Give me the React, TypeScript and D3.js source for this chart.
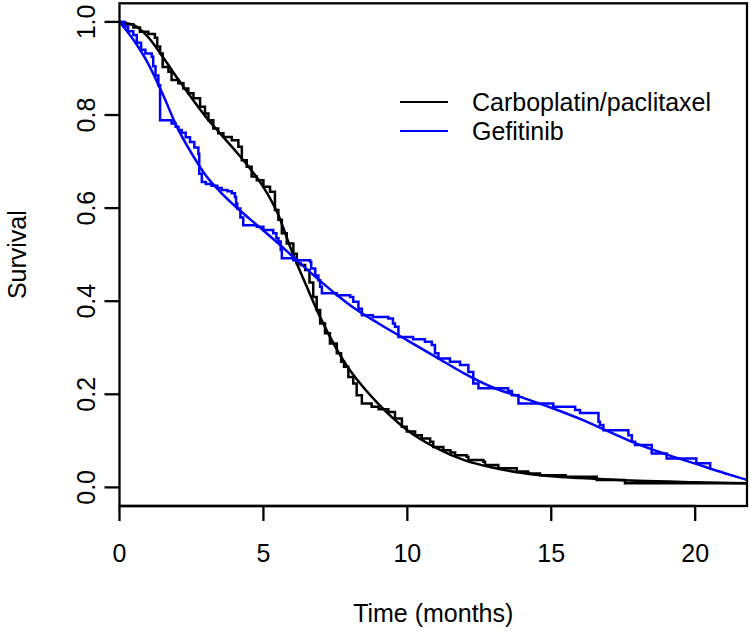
import React from "react";
import * as d3 from "d3";

const W = 750;
const H = 631;

const xTicks = [0, 5, 10, 15, 20];
const yTicks = [0, 0.2, 0.4, 0.6, 0.8, 1.0];
const xDomain = [0, 21.8];
const yDomain = [-0.04, 1.04];

const seriesNames = ["Carboplatin/paclitaxel", "Gefitinib"];
const seriesColors = ["#000000", "#0000ff"];

// Kaplan-Meier steps: [time, survival after drop]
const carboSteps: [number, number][] = [
  [0, 1], [0.19, 0.995], [0.48, 0.988], [0.71, 0.979], [1.0, 0.974], [1.23, 0.966],
  [1.31, 0.947], [1.41, 0.932], [1.5, 0.903], [1.7, 0.893], [1.81, 0.875], [2.04, 0.868],
  [2.22, 0.857], [2.39, 0.847], [2.57, 0.836], [2.8, 0.818], [2.97, 0.803], [3.09, 0.789],
  [3.26, 0.771], [3.43, 0.761], [3.61, 0.753], [3.9, 0.746], [4.13, 0.732], [4.25, 0.703],
  [4.42, 0.689], [4.59, 0.668], [4.77, 0.66], [5.0, 0.646], [5.23, 0.635], [5.4, 0.596],
  [5.52, 0.575], [5.64, 0.546], [5.81, 0.524], [6.04, 0.502], [6.16, 0.481], [6.3, 0.478],
  [6.45, 0.467], [6.6, 0.44], [6.73, 0.409], [6.85, 0.381], [6.97, 0.352], [7.14, 0.331],
  [7.31, 0.309], [7.55, 0.288], [7.7, 0.27], [7.8, 0.259], [7.95, 0.237], [8.12, 0.223],
  [8.24, 0.198], [8.42, 0.18], [8.76, 0.173], [9.0, 0.168], [9.34, 0.162], [9.57, 0.148],
  [9.81, 0.13], [9.98, 0.12], [10.27, 0.112], [10.5, 0.105], [10.79, 0.098], [10.9, 0.087],
  [11.25, 0.08], [11.5, 0.075], [11.66, 0.069], [12.06, 0.066], [12.12, 0.059], [12.64, 0.055],
  [12.7, 0.048], [13.16, 0.041], [13.8, 0.034], [14.2, 0.03], [14.61, 0.026], [15.5, 0.023],
  [16.58, 0.016], [17.56, 0.009], [22.5, 0.009],
];

const gefSteps: [number, number][] = [
  [0, 1], [0.15, 0.99], [0.3, 0.98], [0.48, 0.972], [0.6, 0.955], [0.75, 0.94], [0.9, 0.932],
  [1.12, 0.925], [1.17, 0.905], [1.25, 0.885], [1.35, 0.864], [1.41, 0.789], [1.81, 0.782],
  [1.95, 0.775], [2.05, 0.768], [2.16, 0.762], [2.3, 0.752], [2.45, 0.742], [2.6, 0.73],
  [2.74, 0.717], [2.77, 0.674], [2.86, 0.656], [3.0, 0.652], [3.2, 0.648], [3.4, 0.643],
  [3.55, 0.639], [3.75, 0.636], [3.9, 0.632], [4.01, 0.624], [4.05, 0.61], [4.09, 0.599],
  [4.2, 0.58], [4.3, 0.563], [4.77, 0.56], [5.0, 0.553], [5.34, 0.546], [5.45, 0.535],
  [5.52, 0.528], [5.6, 0.51], [5.64, 0.492], [6.04, 0.488], [6.62, 0.485], [6.66, 0.47],
  [6.8, 0.455], [6.91, 0.445], [6.97, 0.431], [7.03, 0.417], [7.55, 0.413], [8.01, 0.409],
  [8.12, 0.399], [8.3, 0.384], [8.42, 0.37], [8.8, 0.366], [9.34, 0.363], [9.5, 0.352],
  [9.57, 0.345], [9.69, 0.323], [10.2, 0.318], [10.61, 0.313], [10.85, 0.306], [10.96, 0.288],
  [11.08, 0.277], [11.48, 0.27], [11.83, 0.263], [12.12, 0.248], [12.29, 0.223], [12.47, 0.213],
  [13.5, 0.207], [13.63, 0.198], [13.86, 0.18], [15.07, 0.173], [15.83, 0.166], [16.0, 0.16],
  [16.64, 0.141], [16.69, 0.134], [16.81, 0.123], [17.68, 0.112], [17.8, 0.098], [17.91, 0.091],
  [18.49, 0.073], [19.01, 0.062], [20.04, 0.052], [20.52, 0.041], [20.55, 0.041],
];

// Fitted (smooth) survival curves: [time, survival]
const carboFit: [number, number][] = [
  [0, 1], [0.5, 0.993], [1, 0.967], [1.5, 0.925], [2, 0.88], [2.5, 0.837], [3, 0.796],
  [3.5, 0.76], [4, 0.725], [4.5, 0.688], [5, 0.645], [5.5, 0.588], [6, 0.505], [6.5, 0.432],
  [7, 0.362], [7.5, 0.302], [8, 0.252], [8.5, 0.213], [9, 0.179], [10, 0.123], [11, 0.085],
  [12, 0.058], [13, 0.042], [14, 0.031], [15, 0.024], [16, 0.02], [18, 0.014], [20, 0.011],
  [21.8, 0.009],
];

const gefFit: [number, number][] = [
  [0, 1], [0.5, 0.96], [1, 0.91], [1.5, 0.845], [2, 0.774], [2.5, 0.718], [3, 0.67],
  [3.5, 0.635], [4, 0.605], [4.5, 0.578], [5, 0.552], [5.5, 0.525], [6, 0.497], [6.5, 0.469],
  [7, 0.442], [7.5, 0.416], [8, 0.392], [9, 0.352], [10, 0.316], [11, 0.28], [12, 0.244],
  [13, 0.214], [14, 0.193], [15, 0.171], [16, 0.147], [17, 0.12], [18, 0.093], [19, 0.071],
  [20, 0.051], [21, 0.031], [21.8, 0.016],
];

const FONT = "'Liberation Sans', Arial, Helvetica, sans-serif";
const FS = 25;

export default function App() {
  const left = 119.5;
  const right = 747;
  const top = 3.3;
  const bottom = 506;

  const x = d3.scaleLinear().domain(xDomain).range([left, right]);
  const y = d3.scaleLinear().domain(yDomain).range([bottom, top]);

  const stepLine = d3
    .line<[number, number]>()
    .x((d) => x(d[0]))
    .y((d) => y(d[1]))
    .curve(d3.curveStepAfter);
  const smoothLine = d3
    .line<[number, number]>()
    .x((d) => x(d[0]))
    .y((d) => y(d[1]))
    .curve(d3.curveMonotoneX);

  const lw = 2.5;
  const tickLen = 15;

  return (
    <svg
      width={W}
      height={H}
      viewBox={`0 0 ${W} ${H}`}
      style={{ position: "absolute", left: 0, top: 0, background: "#fff" }}
      fontFamily={FONT}
    >
      <rect x={0} y={0} width={W} height={H} fill="#fff" />
      <defs>
        <clipPath id="plotClip">
          <rect x={left} y={top} width={right - left} height={bottom - top} />
        </clipPath>
      </defs>

      <g clipPath="url(#plotClip)" fill="none" strokeWidth={lw} strokeLinejoin="miter">
        <path d={stepLine(carboSteps) || ""} stroke={seriesColors[0]} />
        <path d={smoothLine(carboFit) || ""} stroke={seriesColors[0]} />
        <path d={stepLine(gefSteps) || ""} stroke={seriesColors[1]} />
        <path d={smoothLine(gefFit) || ""} stroke={seriesColors[1]} />
      </g>

      <rect
        x={left}
        y={top}
        width={right - left}
        height={bottom - top}
        fill="none"
        stroke="#000"
        strokeWidth={2.3}
      />

      {/* x axis */}
      <g>
        <line x1={x(0)} x2={x(20)} y1={bottom} y2={bottom} stroke="#000" strokeWidth={2.3} />
        {xTicks.map((t) => (
          <g key={t}>
            <line x1={x(t)} x2={x(t)} y1={bottom} y2={bottom + tickLen} stroke="#000" strokeWidth={2.3} />
            <text x={x(t)} y={562} textAnchor="middle" fontSize={FS} fill="#000">
              {t}
            </text>
          </g>
        ))}
        <text x={(left + right) / 2} y={622} textAnchor="middle" fontSize={FS} fill="#000">
          Time (months)
        </text>
      </g>

      {/* y axis */}
      <g>
        {yTicks.map((t) => (
          <g key={t}>
            <line x1={left - tickLen} x2={left} y1={y(t)} y2={y(t)} stroke="#000" strokeWidth={2.3} />
            <text
              transform={`translate(95,${y(t)}) rotate(-90)`}
              textAnchor="middle"
              fontSize={FS}
              fill="#000"
            >
              {t.toFixed(1)}
            </text>
          </g>
        ))}
        <text
          transform={`translate(26,${(top + bottom) / 2}) rotate(-90)`}
          textAnchor="middle"
          fontSize={FS}
          fill="#000"
        >
          Survival
        </text>
      </g>

      {/* legend */}
      <g>
        {seriesNames.map((name, i) => (
          <g key={name}>
            <line x1={400} x2={448} y1={102 + i * 29} y2={102 + i * 29} stroke={seriesColors[i]} strokeWidth={2} />
            <text x={472} y={102 + i * 29 + 9} fontSize={FS} fill="#000">
              {name}
            </text>
          </g>
        ))}
      </g>
    </svg>
  );
}
